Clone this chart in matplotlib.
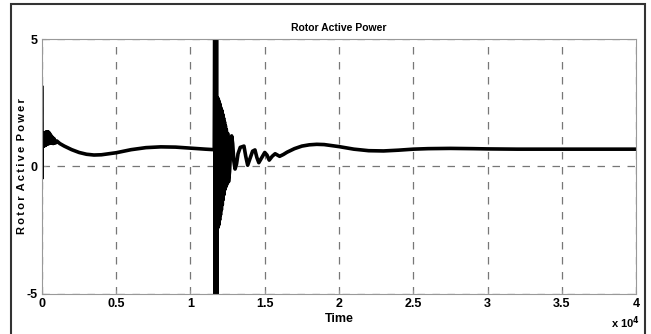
import matplotlib.pyplot as plt
from matplotlib.patches import Rectangle

# time in units of 1e4
t_start = [0.0, 0.0, 0.0, 0.003, 0.006, 0.009, 0.012, 0.015, 0.018, 0.021, 0.024,
           0.027, 0.030, 0.033, 0.036, 0.039, 0.042, 0.045, 0.048, 0.051, 0.055,
           0.060, 0.065, 0.070, 0.075, 0.080, 0.090, 0.100, 0.12, 0.15, 0.2, 0.25,
           0.3, 0.35, 0.4, 0.5, 0.6, 0.7, 0.8, 0.9, 1.0, 1.1, 1.16]
p_start = [3.1, -0.45, 1.0, 1.2, 0.8, 1.25, 0.8, 1.3, 0.82, 1.32, 0.84,
           1.35, 0.86, 1.36, 0.88, 1.36, 0.9, 1.34, 0.9, 1.3, 0.92,
           1.22, 0.92, 1.15, 0.9, 1.1, 0.92, 1.0, 0.9, 0.8, 0.66, 0.55,
           0.48, 0.45, 0.46, 0.54, 0.66, 0.74, 0.77, 0.76, 0.72, 0.68, 0.66]

t_fault = [1.163, 1.166, 1.169, 1.172, 1.175, 1.178,
           1.181, 1.184, 1.187, 1.190, 1.193, 1.196,
           1.199, 1.202, 1.205, 1.208, 1.211, 1.214,
           1.217, 1.220, 1.223, 1.226, 1.229, 1.232,
           1.235, 1.238, 1.241, 1.245, 1.250, 1.256,
           1.263, 1.270, 1.277, 1.284, 1.292, 1.300,
           1.310, 1.320, 1.335, 1.360, 1.372, 1.385,
           1.400, 1.418, 1.434, 1.447, 1.460, 1.480,
           1.500, 1.515, 1.530, 1.550, 1.570, 1.585,
           1.600, 1.625, 1.650, 1.675, 1.700]
p_fault = [5.5, -5.5, 5.5, -5.5, 5.5, -5.5,
           2.7, -2.4, 2.65, -2.3, 2.55, -2.1,
           2.45, -1.9, 2.3, -1.7, 2.2, -1.5,
           2.05, -1.3, 1.9, -1.1, 1.75, -0.9,
           1.6, -0.8, 1.45, -0.7, 1.3, -0.6,
           -0.2, 0.6, 1.2, 0.9, 0.2, -0.1,
           0.1, 0.5, 0.75, 0.8, 0.4, 0.05,
           0.3, 0.6, 0.65, 0.35, 0.15, 0.35,
           0.55, 0.45, 0.25, 0.4, 0.5, 0.45,
           0.4, 0.47, 0.56, 0.63, 0.7]

t_end = [1.75, 1.8, 1.85, 1.9, 2.0, 2.1, 2.2, 2.3, 2.4, 2.5, 2.6, 2.75,
         2.9, 3.0, 3.2, 3.5, 3.8, 4.0]
p_end = [0.8, 0.85, 0.87, 0.86, 0.78, 0.68, 0.62, 0.61, 0.64, 0.68, 0.7,
         0.71, 0.7, 0.69, 0.68, 0.68, 0.68, 0.68]

x_ticks = [0, 0.5, 1, 1.5, 2, 2.5, 3, 3.5, 4]
y_ticks = [-5, 0, 5]

plt.rcParams['font.family'] = ['Liberation Sans', 'DejaVu Sans']
plt.rcParams['font.weight'] = 'bold'
plt.rcParams['axes.unicode_minus'] = False

fig = plt.figure(figsize=(6.51, 3.34), dpi=100)
ax = fig.add_axes([0.0645, 0.1198, 0.9125, 0.7634])

t = t_start + t_fault + t_end
p = p_start + p_fault + p_end
ax.plot(t, p, color='black', linewidth=2.6)

ax.set_xlim(0, 4)
ax.set_ylim(-5, 5)
ax.set_xticks(x_ticks)
ax.set_xticklabels([('%g' % v) for v in x_ticks])
ax.set_yticks(y_ticks)
ax.grid(True, color='#777777', linestyle=(0, (6, 6)), linewidth=0.9)
for s in ax.spines.values():
    s.set_color('#999999')
ax.tick_params(direction='in', length=3, color='#999999', labelsize=9, pad=3)
ax.set_title('Rotor Active Power', fontsize=7.5, fontweight='bold', pad=6)
ax.set_xlabel('Time', fontsize=9, fontweight='bold', labelpad=2)
ax.set_ylabel('R\u2009o\u2009t\u2009o\u2009r\u2009 A\u2009c\u2009t\u2009i\u2009v\u2009e\u2009 P\u2009o\u2009w\u2009e\u2009r',
              fontsize=8, fontweight='bold')
ax.yaxis.set_label_coords(-0.026, 0.5)
fig.text(0.938, 0.02, r'x 10$^{4}$', fontsize=8, fontweight='bold')

fig.add_artist(Rectangle((11 / 651, -0.1), (645 - 11) / 651, 1.088, fill=False,
                         edgecolor='#333333', linewidth=1.5, transform=fig.transFigure))

fig.savefig('out.png', dpi=100)
